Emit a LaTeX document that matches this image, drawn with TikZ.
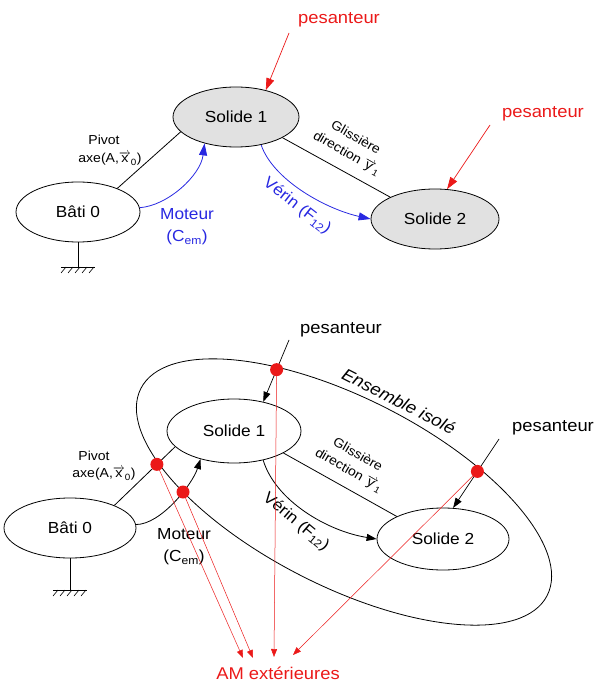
\documentclass[tikz,border=0pt]{standalone}
\usepackage{fontspec}
\setmainfont{Liberation Sans}[FakeStretch=1.08]
\usetikzlibrary{arrows.meta,shapes.geometric}
\definecolor{myred}{RGB}{235,25,25}
\definecolor{myblue}{RGB}{40,40,225}
\definecolor{mygray}{RGB}{225,225,225}
\newcommand{\fsz}[2]{\fontsize{#1}{#2}\selectfont}
\newcommand{\vecx}[1]{\(\overrightarrow{\mbox{#1}}\)}
\begin{document}
\begin{tikzpicture}[x=1pt,y=-1pt,
  solidbox/.style={ellipse,draw,line width=0.8pt,inner sep=0pt,font=\fsz{16}{19}},
  link/.style={line width=0.8pt},
  bigtip/.style={-{Triangle[length=12pt,width=8pt]}},
  midtip/.style={-{Triangle[length=10pt,width=7pt]}},
  smalltip/.style={-{Triangle[length=8pt,width=6pt]}},
  lab/.style={font=\fsz{13}{15},inner sep=0pt,align=center},
  biglab/.style={font=\fsz{16}{19},inner sep=0pt,align=center},
  peslab/.style={font=\fsz{17}{20},inner sep=0pt},
  reddot/.style={circle,fill=myred,inner sep=0pt,minimum size=13pt}]
\useasboundingbox (0,0) rectangle (608,684);

% ================= TOP =================
\node[solidbox,fill=mygray,minimum width=126pt,minimum height=60pt] (S1) at (236,117) {Solide 1};
\node[solidbox,fill=mygray,minimum width=128pt,minimum height=60pt] (S2) at (435,219) {Solide 2};
\node[solidbox,minimum width=124pt,minimum height=60pt] (B0) at (78,212) {Bâti 0};

% ground
\coordinate (g0) at (78,267);
\draw[link] (B0.south) -- (g0);
\draw[line width=0.6pt] (61,267) -- (95,267);
\foreach \gx in {66,73,80,87,94} \draw[line width=0.6pt] (\gx,267) -- (\gx-5,273);

% pivot
\draw[link] (B0.31) -- (S1.195);
\node[lab] (pv1) at (104,140) {Pivot};
\node[lab] (ax1) at (110,159) {axe(A,\vecx{x}\textsubscript{0})};

% moteur
\draw[link,myblue,bigtip] (B0.4) .. controls +(28,-2) and +(-4,32) .. (S1.220);
\node[biglab,text=myblue] (mot1) at (187,227) {Moteur\\[3pt](C\textsubscript{em})};

% glissiere
\draw[link] (S1.-24) -- (S2.154);
\node[lab,rotate=-30] (gl1) at (351,146) {Glissière\\[3pt]direction \vecx{y}\textsubscript{1}};

% verin
\draw[link,myblue,bigtip] (S1.-48) .. controls +(12,35) and +(-45,-10) .. (S2.180);
\node[biglab,text=myblue,rotate=-38] (ve1) at (297,206) {Vérin (F\textsubscript{12})};

% pesanteur
\node[peslab,text=myred] (pes1) at (339,20) {pesanteur};
\coordinate (pes1s) at (289,33);
\draw[myred,line width=0.7pt,bigtip] (pes1s) -- (S1.42);
\node[peslab,text=myred] (pes2) at (543,114) {pesanteur};
\coordinate (pes2s) at (490,125);
\draw[myred,line width=0.7pt,bigtip] (pes2s) -- (S2.68);

% ================= BOTTOM =================
\node[solidbox,minimum width=134pt,minimum height=64pt] (T1) at (234,431) {Solide 1};
\node[solidbox,minimum width=132pt,minimum height=62pt] (T2) at (443,539) {Solide 2};
\node[solidbox,minimum width=132pt,minimum height=60pt] (T0) at (70,528) {Bâti 0};

% ground
\coordinate (h0) at (70,590);
\draw[link] (T0.south) -- (h0);
\draw[line width=0.6pt] (53,590) -- (87,590);
\foreach \gx in {58,65,72,79,86} \draw[line width=0.6pt] (\gx,590) -- (\gx-5,596);

% isolated set
\draw[link,rotate around={-27:(344,492)}] (344,492) ellipse [x radius=228pt, y radius=94pt];
\node[font=\itshape\fsz{17}{20},rotate=-27,inner sep=0pt] (ens) at (399,401) {Ensemble isolé};

% pivot
\draw[link] (T0.27) -- coordinate[pos=0.7] (d1) (T1.195);
\node[lab] (pv2) at (94,456) {Pivot};
\node[lab] (ax2) at (104,474) {axe(A,\vecx{x}\textsubscript{0})};

% moteur
\draw[link,midtip] (T0.3) .. controls +(25,0) and +(-8,25) .. (T1.220);
\coordinate (d2) at (183,492);
\node[biglab] (mot2) at (184,547) {Moteur\\[3pt](C\textsubscript{em})};

% glissiere
\draw[link] (T1.-24) -- (T2.154);
\node[lab,rotate=-30] (gl2) at (353,463) {Glissière\\[3pt]direction \vecx{y}\textsubscript{1}};

% verin
\draw[link,midtip] (T1.-45) .. controls +(12,40) and +(-50,-8) .. (T2.180);
\node[biglab,rotate=-40] (ve2) at (296,522) {Vérin (F\textsubscript{12})};

% pesanteur
\node[peslab] (pes3) at (341,330) {pesanteur};
\coordinate (pes3s) at (289,340);
\draw[line width=0.7pt,midtip] (pes3s) -- coordinate[pos=0.48] (d3) (T1.45);
\node[peslab] (pes4) at (553,428) {pesanteur};
\coordinate (pes4s) at (499,439);
\draw[line width=0.7pt,midtip] (pes4s) -- coordinate[pos=0.47] (d4) (T2.72);

% AM exterieures
\node[peslab,text=myred] (am) at (278,673) {AM extérieures};
\coordinate (a1) at (243,658);
\coordinate (a2) at (253,658);
\coordinate (a3) at (274,657);
\coordinate (a4) at (293,655);
\draw[myred,line width=0.5pt,smalltip] (d1) -- (a1);
\draw[myred,line width=0.5pt,smalltip] (d2) -- (a2);
\draw[myred,line width=0.5pt,smalltip] (d3) -- (a3);
\draw[myred,line width=0.5pt,smalltip] (d4) -- (a4);
\node[reddot] (r1) at (d1) {};
\node[reddot] (r2) at (d2) {};
\node[reddot] (r3) at (d3) {};
\node[reddot] (r4) at (d4) {};
\end{tikzpicture}
\end{document}
